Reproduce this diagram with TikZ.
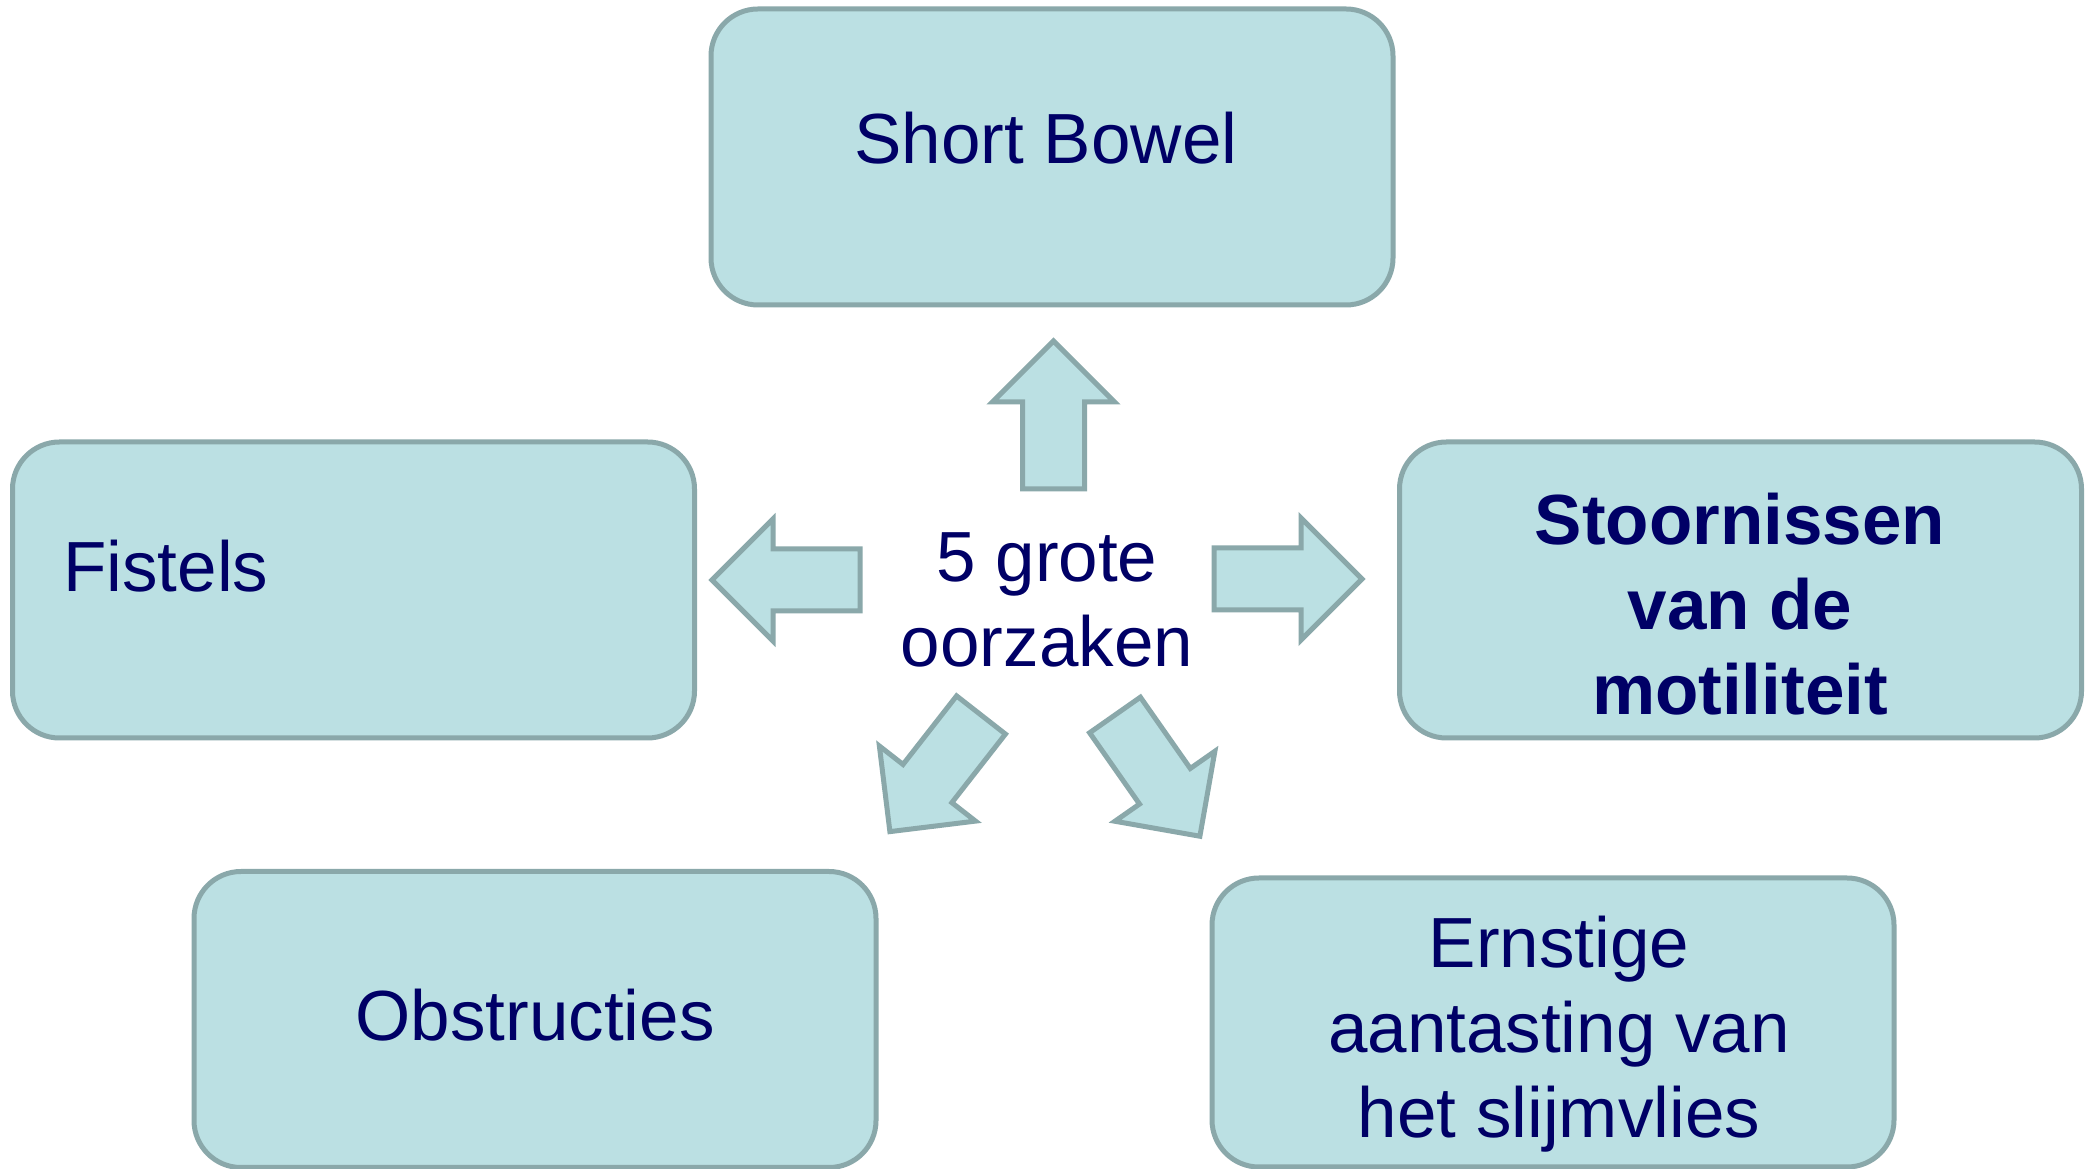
\documentclass[tikz,border=0pt]{standalone}
\usepackage{fontspec}
\setmainfont{Liberation Sans}
\definecolor{boxfill}{HTML}{BBE0E3}
\definecolor{boxline}{HTML}{8AA8AA}
\definecolor{navy}{HTML}{000066}
\begin{document}
\begin{tikzpicture}[x=1pt,y=1pt,
  box/.style={draw=boxline, fill=boxfill, line width=5pt, rounded corners=47pt,
    minimum width=682pt, minimum height=296pt, inner sep=0pt},
  txt/.style={text=navy, font=\fontsize{71}{85}\selectfont, inner sep=0pt, align=center},
  barrow/.pic={\draw[draw=boxline, fill=boxfill, line width=5pt, line join=miter]
    (0,-31) -- (87,-31) -- (87,-61) -- (148,0) -- (87,61) -- (87,31) -- (0,31) -- cycle;}]
\fill[white] (0,0) rectangle (2096,1169);
\useasboundingbox (0,0) rectangle (2096,1169);
% boxes
\node[box] (sb) at (1052,1012) {};
\node[box] (fi) at (353.5,579) {};
\node[box] (st) at (1740.5,579) {};
\node[box] (ob) at (535,149.5) {};
\node[box, minimum height=289pt] (er) at (1553,146.5) {};
% texts (base anchor = baseline of last line)
\node[txt, anchor=base] (sbt) at (1046,1005) {Short Bowel};
\node[txt, anchor=base west] (fit) at (63,577) {Fistels};
\node[txt, anchor=base, font=\fontsize{71}{85}\selectfont\bfseries] (stt) at (1740,454) {Stoornissen\\van de\\motiliteit};
\node[txt, anchor=base] (obt) at (535,128) {Obstructies};
\node[txt, anchor=base] (ert) at (1559,31) {Ernstige\\aantasting van\\het slijmvlies};
\node[txt, anchor=base] (ct) at (1047,502) {5 grote\\oorzaken};
% block arrows
\path (1053.5,680) pic[rotate=90] {barrow};
\path (860,589) pic[rotate=180] {barrow};
\path (1214,590) pic {barrow};
\path (981,454) pic[rotate=232] {barrow};
\path (1115,454) pic[rotate=-55] {barrow};
\end{tikzpicture}
\end{document}
